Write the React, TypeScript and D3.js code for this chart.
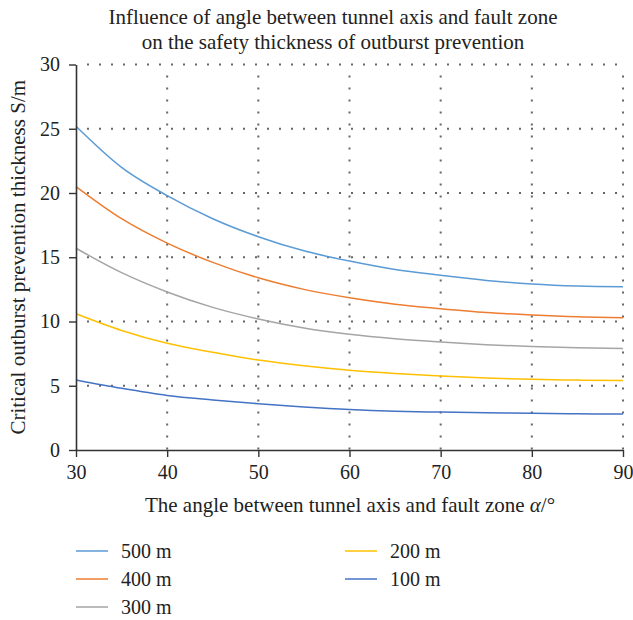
import React, { useRef, useEffect } from 'react';
import * as d3 from 'd3';

// angles (degrees)
const angles = [30, 35, 40, 45, 50, 55, 60, 65, 70, 75, 80, 85, 90];
const seriesNames = ['500 m', '400 m', '300 m', '200 m', '100 m'];
const seriesColors = ['#5B9BD5', '#ED7D31', '#A5A5A5', '#FFC000', '#4472C4'];
const s500 = [25.2, 22.0, 19.8, 18.0, 16.6, 15.5, 14.7, 14.05, 13.6, 13.2, 12.92, 12.76, 12.7];
const s400 = [20.5, 18.0, 16.1, 14.6, 13.4, 12.5, 11.85, 11.35, 11.0, 10.7, 10.5, 10.36, 10.3];
const s300 = [15.7, 13.8, 12.3, 11.1, 10.2, 9.5, 9.0, 8.65, 8.4, 8.2, 8.05, 7.95, 7.9];
const s200 = [10.6, 9.3, 8.3, 7.6, 7.0, 6.55, 6.2, 5.95, 5.75, 5.6, 5.5, 5.44, 5.4];
const s100 = [5.45, 4.8, 4.25, 3.9, 3.6, 3.35, 3.15, 3.02, 2.95, 2.9, 2.86, 2.82, 2.8];
const seriesValues = [s500, s400, s300, s200, s100];
const xTicks = [30, 40, 50, 60, 70, 80, 90];
const yTicks = [0, 5, 10, 15, 20, 25, 30];

const FONT = '"Liberation Serif", "DejaVu Serif", serif';
const INK = '#222';

const App = () => {
  const ref = useRef(null);
  useEffect(() => {
    const W = 633, H = 620;
    const m = { left: 76, right: 10, top: 64.5, bottom: 170 };
    const svg = d3.select(ref.current)
      .append('svg')
      .attr('width', W)
      .attr('height', H)
      .attr('font-family', FONT);

    svg.append('rect').attr('width', W).attr('height', H).attr('fill', '#fff');

    const x = d3.scaleLinear().domain([30, 90]).range([m.left, W - m.right]);
    const y = d3.scaleLinear().domain([0, 30]).range([H - m.bottom, m.top]);

    // title
    const title = svg.append('text')
      .attr('text-anchor', 'middle')
      .attr('font-family', FONT)
      .attr('font-size', 21)
      .attr('fill', INK);
    title.append('tspan').attr('x', 333).attr('y', 24).text('Influence of angle between tunnel axis and fault zone');
    title.append('tspan').attr('x', 333).attr('y', 49).text('on the safety thickness of outburst prevention');

    // dotted grid
    const grid = svg.append('g')
      .attr('stroke', '#666')
      .attr('stroke-width', 2)
      .attr('stroke-dasharray', '2,10');
    grid.selectAll('line.h')
      .data(yTicks.filter(d => d > 0))
      .enter().append('line')
      .attr('x1', x(30) + 11).attr('x2', x(90) + 1)
      .attr('y1', d => y(d)).attr('y2', d => y(d));
    grid.selectAll('line.v')
      .data(xTicks.filter(d => d > 30))
      .enter().append('line')
      .attr('x1', d => x(d)).attr('x2', d => x(d))
      .attr('y1', y(30) + 11).attr('y2', y(0));

    // lines
    const line = d3.line<number>()
      .x((_, i) => x(angles[i]))
      .y(d => y(d))
      .curve(d3.curveMonotoneX);
    svg.append('g')
      .selectAll('path')
      .data(seriesValues)
      .enter().append('path')
      .attr('d', d => line(d))
      .attr('fill', 'none')
      .attr('stroke', (_, i) => seriesColors[i])
      .attr('stroke-width', 1.5);

    // axes
    const yAxis = svg.append('g')
      .attr('transform', `translate(${x(30)},0)`)
      .call(d3.axisLeft(y).tickValues(yTicks).tickSize(7).tickPadding(9).tickSizeOuter(0));
    const xAxis = svg.append('g')
      .attr('transform', `translate(0,${y(0)})`)
      .call(d3.axisBottom(x).tickValues(xTicks).tickSize(7).tickPadding(8).tickSizeOuter(0));
    [xAxis, yAxis].forEach(a => {
      a.attr('font-family', FONT).attr('font-size', 20);
      a.select('.domain').attr('stroke', '#333').attr('stroke-width', 1.6);
      a.selectAll('.tick line').attr('stroke', '#333').attr('stroke-width', 1.4);
      a.selectAll('.tick text').attr('fill', INK);
    });

    // axis titles
    svg.append('text')
      .attr('transform', `translate(25,${(y(0) + y(30)) / 2}) rotate(-90)`)
      .attr('text-anchor', 'middle')
      .attr('font-family', FONT)
      .attr('font-size', 21)
      .attr('fill', INK)
      .text('Critical outburst prevention thickness S/m');

    const xt = svg.append('text')
      .attr('x', 350)
      .attr('y', 512)
      .attr('text-anchor', 'middle')
      .attr('font-family', FONT)
      .attr('font-size', 21)
      .attr('fill', INK);
    xt.append('tspan').text('The angle between tunnel axis and fault zone ');
    xt.append('tspan').attr('font-style', 'italic').text('α');
    xt.append('tspan').text('/°');

    // legend
    const legendPos = [
      [76, 551], [76, 579], [76, 607], [345, 551], [345, 579]
    ];
    const lg = svg.append('g')
      .selectAll('g')
      .data(seriesNames)
      .enter().append('g')
      .attr('transform', (_, i) => `translate(${legendPos[i][0]},${legendPos[i][1]})`);
    lg.append('line')
      .attr('x1', 0).attr('x2', 32)
      .attr('stroke', (_, i) => seriesColors[i])
      .attr('stroke-width', 1.5);
    lg.append('text')
      .attr('x', 45)
      .attr('dy', '0.33em')
      .attr('font-family', FONT)
      .attr('font-size', 20)
      .attr('fill', INK)
      .text(d => d);
  }, []);
  return <div ref={ref} style={{ position: 'absolute', left: 0, top: 0 }}></div>;
};

export default App;
